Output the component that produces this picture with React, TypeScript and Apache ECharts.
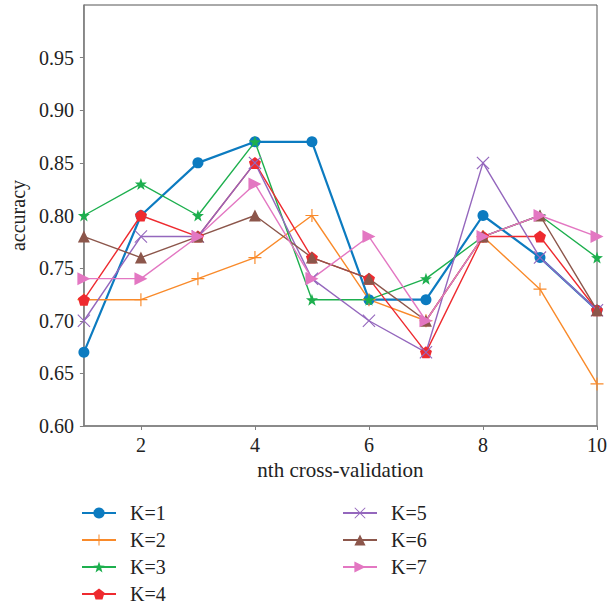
import React, { useEffect, useRef } from "react";
import * as echarts from "echarts";

const xValues = [1, 2, 3, 4, 5, 6, 7, 8, 9, 10];
const seriesNames = ["K=1", "K=2", "K=3", "K=4", "K=5", "K=6", "K=7"];
const k1 = [0.67, 0.80, 0.85, 0.87, 0.87, 0.72, 0.72, 0.80, 0.76, 0.71];
const k2 = [0.72, 0.72, 0.74, 0.76, 0.80, 0.72, 0.70, 0.78, 0.73, 0.64];
const k3 = [0.80, 0.83, 0.80, 0.87, 0.72, 0.72, 0.74, 0.78, 0.80, 0.76];
const k4 = [0.72, 0.80, 0.78, 0.85, 0.76, 0.74, 0.67, 0.78, 0.78, 0.71];
const k5 = [0.70, 0.78, 0.78, 0.85, 0.74, 0.70, 0.67, 0.85, 0.76, 0.71];
const k6 = [0.78, 0.76, 0.78, 0.80, 0.76, 0.74, 0.70, 0.78, 0.80, 0.71];
const k7 = [0.74, 0.74, 0.78, 0.83, 0.74, 0.78, 0.70, 0.78, 0.80, 0.78];
const yTicks = [0.6, 0.65, 0.7, 0.75, 0.8, 0.85, 0.9, 0.95];
const xTicks = [2, 4, 6, 8, 10];

const colors = ["#0C7BC0", "#F98A2A", "#1DAF4E", "#EE2A2F", "#9467BD", "#8C564B", "#E377C2"];

const plusPath = "path://M0,4.55 L10,4.55 L10,5.45 L0,5.45 Z M4.55,0 L5.45,0 L5.45,10 L4.55,10 Z";
const crossPath =
  "path://M0.6,0 L5,4.4 L9.4,0 L10,0.6 L5.6,5 L10,9.4 L9.4,10 L5,5.6 L0.6,10 L0,9.4 L4.4,5 L0,0.6 Z";
const starPath =
  "path://M5,0 L6.18,3.38 L9.76,3.45 L6.9,5.62 L7.94,9.05 L5,7 L2.06,9.05 L3.1,5.62 L0.24,3.45 L3.82,3.38 Z";
const pentPath = "path://M5,0 L9.76,3.45 L7.94,9.05 L2.06,9.05 L0.24,3.45 Z";

const allData = [k1, k2, k3, k4, k5, k6, k7];
const symbols = ["circle", plusPath, starPath, pentPath, crossPath, "triangle", "triangle"];
const symbolSizes = [11, 13, 12, 12, 13, 12, 13];
const rotates = [0, 0, 0, 0, 0, 0, -90];
const lineWidths = [2.2, 1.4, 1.4, 1.4, 1.4, 1.4, 1.4];

const FONT = "Liberation Serif";

export default function App() {
  const ref = useRef<HTMLDivElement>(null);
  useEffect(() => {
    if (!ref.current) return;
    const chart = echarts.init(ref.current, undefined, { renderer: "svg" });
    const series = seriesNames.map((name, i) => ({
      name,
      type: "line",
      data: xValues.map((x, j) => [x, allData[i][j]]),
      symbol: symbols[i],
      symbolSize: symbolSizes[i],
      symbolRotate: rotates[i],
      showAllSymbol: true,
      clip: false,
      lineStyle: { color: colors[i], width: lineWidths[i] },
      itemStyle: { color: colors[i], borderWidth: 0 },
      emphasis: { disabled: true },
    }));
    const legendCommon = {
      orient: "vertical" as const,
      padding: 0,
      itemWidth: 34,
      itemHeight: 14,
      itemGap: 7,
      textStyle: { fontFamily: FONT, fontSize: 20, color: "#222", padding: [0, 0, 0, 9] },
    };
    chart.setOption({
      animation: false,
      color: colors,
      textStyle: { fontFamily: FONT },
      grid: {
        left: 82,
        right: 8,
        top: 5,
        bottom: 184,
        show: true,
        borderColor: "#555",
        borderWidth: 1,
      },
      legend: [
        { ...legendCommon, left: 81, top: 503, data: seriesNames.slice(0, 4) },
        { ...legendCommon, left: 342, top: 503, data: seriesNames.slice(4) },
      ],
      xAxis: {
        type: "value",
        min: 1,
        max: 10,
        name: "nth cross-validation",
        nameLocation: "middle",
        nameGap: 29,
        nameTextStyle: { fontFamily: FONT, fontSize: 21, color: "#222" },
        axisLine: { show: true, lineStyle: { color: "#808080", width: 1.5 } },
        axisTick: { show: true, customValues: xTicks, length: 4, lineStyle: { color: "#808080" } },
        axisLabel: {
          customValues: xTicks,
          margin: 9,
          fontFamily: FONT,
          fontSize: 20,
          color: "#222",
        },
        splitLine: { show: false },
      },
      yAxis: {
        type: "value",
        min: 0.6,
        max: 1.0,
        name: "accuracy",
        nameLocation: "middle",
        nameGap: 53,
        nameTextStyle: { fontFamily: FONT, fontSize: 20, color: "#222" },
        axisLine: { show: true, lineStyle: { color: "#808080", width: 1.5 } },
        axisTick: { show: true, customValues: yTicks, length: 4, lineStyle: { color: "#808080" } },
        axisLabel: {
          customValues: yTicks,
          margin: 10,
          fontFamily: FONT,
          fontSize: 20,
          color: "#222",
          formatter: (v: number) => v.toFixed(2),
        },
        splitLine: { show: false },
      },
      series,
    });
    return () => chart.dispose();
  }, []);
  return (
    <div
      ref={ref}
      style={{ position: "absolute", left: 0, top: 0, width: 610, height: 610, background: "#fff" }}
    />
  );
}
